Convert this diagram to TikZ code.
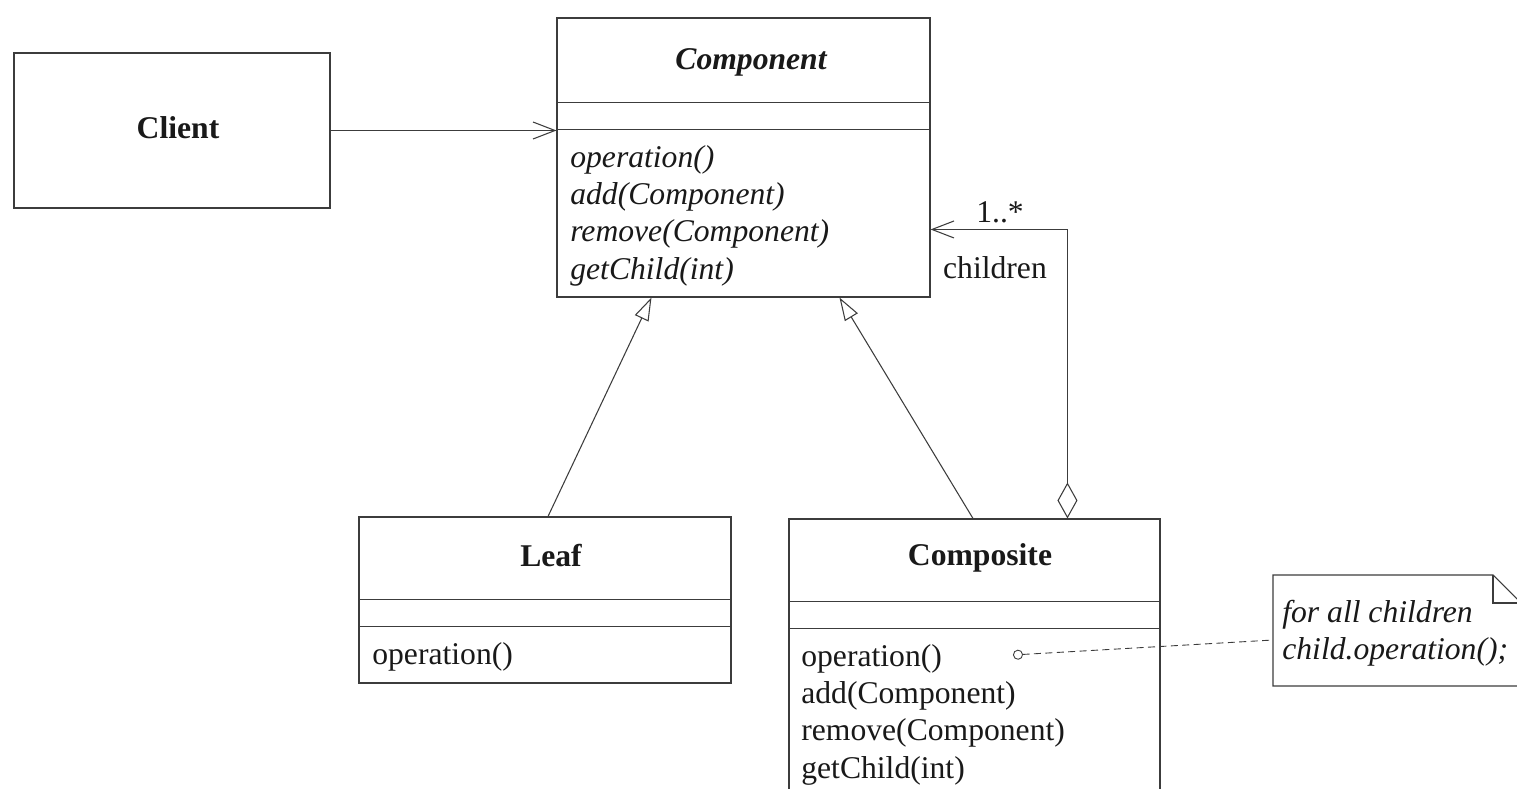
\documentclass[tikz,border=0pt]{standalone}
\usepackage{fontspec}
\setmainfont{Liberation Serif}
\usetikzlibrary{positioning,arrows.meta,calc}
\definecolor{umlLine}{RGB}{60,60,60}
\definecolor{umlText}{RGB}{25,25,25}
\tikzset{
    base/.style={font=\fontsize{18}{21.2}\selectfont, text=umlText},
    classbox/.style={rectangle, draw=umlLine, line width=0.6pt, inner sep=0pt},
    title/.style={base, font=\fontsize{18}{21.2}\selectfont\bfseries},
    members/.style={base, align=left, inner sep=0pt, anchor=north west},
    divider/.style={draw=umlLine, line width=0.6pt},
    assoc/.style={-{Straight Barb[length=4.4mm,width=3.4mm]}, umlLine, line width=0.6pt},
    inherit/.style={-{Triangle[open,length=4.6mm,width=3mm]}, umlLine, line width=0.6pt},
    aggr/.style={{Diamond[open,length=7.2mm,width=4mm]}-{Straight Barb[length=4.4mm,width=3.4mm]}, umlLine, line width=0.6pt},
    anchorline/.style={{Circle[open,length=2mm]}-, umlLine, line width=0.5pt, dash pattern=on 4pt off 2.5pt},
    label/.style={base, inner sep=1pt}
}

\begin{document}
\begin{tikzpicture}[x=0.2mm, y=-0.2mm]
  \clip (0,0) rectangle (1517,789);
  \fill[white] (0,0) rectangle (1517,789);

  % Client
  \node[classbox, minimum width=63.2mm, minimum height=31mm] (client) at (172,130.5) {};
  \node[title] (clientname) at (178,128) {Client};

  % Component (abstract)
  \node[classbox, minimum width=74.6mm, minimum height=55.8mm] (comp) at (743.5,157.5) {};
  \node[title, font=\fontsize{18}{21.2}\selectfont\bfseries\itshape] (compname) at (751,62) {Component};
  \draw[divider] ($(comp.north west)+(0,85)$) -- ($(comp.north east)+(0,85)$);
  \draw[divider] ($(comp.north west)+(0,112)$) -- ($(comp.north east)+(0,112)$);
  \node[members, font=\fontsize{18}{21.2}\selectfont\itshape] (compops) at (570,145) {
    operation()\\
    add(Component)\\
    remove(Component)\\
    getChild(int)
  };

  % Leaf
  \node[classbox, minimum width=74.4mm, minimum height=33.2mm] (leaf) at (545,600) {};
  \node[title] (leafname) at (551,556) {Leaf};
  \draw[divider] ($(leaf.north west)+(0,83)$) -- ($(leaf.north east)+(0,83)$);
  \draw[divider] ($(leaf.north west)+(0,110)$) -- ($(leaf.north east)+(0,110)$);
  \node[members] (leafops) at (372,642) {operation()};

  % Composite
  \node[classbox, minimum width=74.2mm, minimum height=56.2mm] (composite) at (974.5,659.5) {};
  \node[title] (compositename) at (980,558) {Composite};
  \draw[divider] ($(composite.north west)+(0,83)$) -- ($(composite.north east)+(0,83)$);
  \draw[divider] ($(composite.north west)+(0,110)$) -- ($(composite.north east)+(0,110)$);
  \node[members] (compositeops) at (801,644) {
    operation()\\
    add(Component)\\
    remove(Component)\\
    getChild(int)
  };

  % Note
  \draw[divider] (1273,575) -- (1493,575) -- (1521,603) -- (1521,686) -- (1273,686) -- cycle;
  \draw[divider] (1493,575) |- (1521,603);
  \node[members, font=\fontsize{18}{21.2}\selectfont\itshape] (notetext) at (1282,600) {
    for all children\\
    child.operation();
  };
  \coordinate (note) at (1273,640);
  \coordinate (opanchor) at (1013,655);

  % Relations
  \draw[assoc] (client.east) -- (client.east -| comp.west);
  \draw[inherit] ($(leaf.north)+(3,0)$) -- ($(comp.south west)+(95,0)$);
  \draw[inherit] ($(composite.north)+(-1.5,0)$) -- ($(comp.south west)+(283,0)$);
  \draw[aggr] ($(composite.north west)+(279,0)$) |- ($(comp.north east)+(0,212)$);
  \node[label] (mult) at (1000,212) {1..*};
  \node[label] (role) at (995,268) {children};
  \draw[anchorline] (opanchor) -- (note);
\end{tikzpicture}
\end{document}
